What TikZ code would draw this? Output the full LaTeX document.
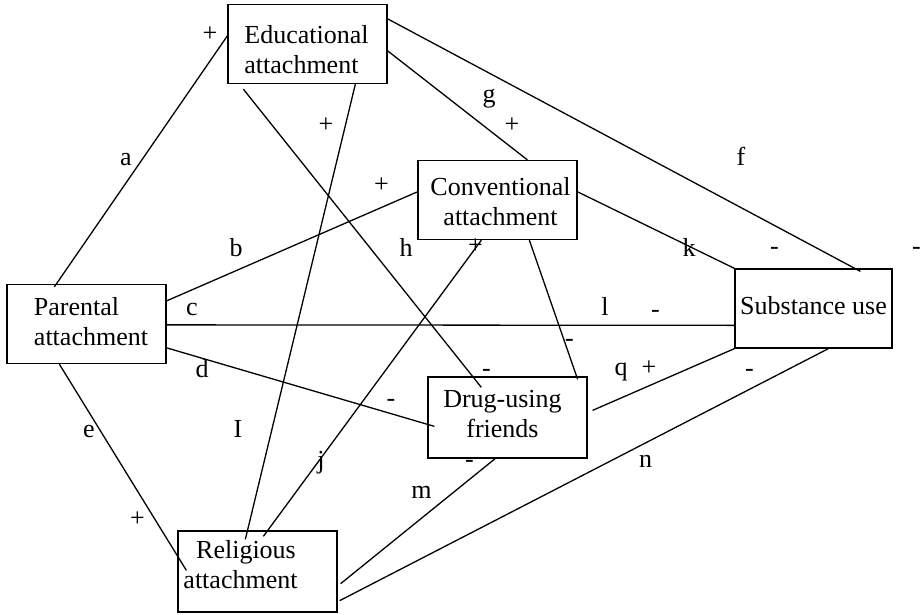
\documentclass[tikz,border=0pt]{standalone}
\usepackage{fontspec}
\setmainfont{Liberation Serif}
\usetikzlibrary{calc}
\newcommand\boxtxt[4]{\kern#1\raisebox{#2}[\height][\depth]{\begin{tabular}{@{}#3@{}}#4\end{tabular}}}
\begin{document}
\begin{tikzpicture}[x=1pt,y=-1pt,
  boxnode/.style={draw, line width=1.3pt, inner sep=0pt, minimum width=159pt, minimum height=79pt,
    font=\fontsize{26}{30}\selectfont},
  lbl/.style={inner sep=0pt, anchor=base, font=\fontsize{26}{30}\selectfont},
  conn/.style={line width=1.3pt}]
\useasboundingbox (0,0) rectangle (922,614);

% boxes
\node[boxnode] (edu)  at (307.5,44)    {\boxtxt{-2pt}{-8pt}{l}{Educational\\attachment}};
\node[boxnode] (conv) at (497.5,200)   {\boxtxt{6pt}{-4pt}{c}{Conventional\\attachment}};
\node[boxnode] (par)  at (86.5,324)    {\boxtxt{9pt}{0pt}{l}{Parental\\attachment}};
\node[boxnode, minimum height=81pt] (rel)  at (257.5,571.5) {\boxtxt{-34pt}{4pt}{c}{\kern11pt Religious\\attachment}};
\node[boxnode, minimum height=81pt] (drug) at (507.5,417.5) {\boxtxt{-10pt}{1pt}{c}{Drug-using\\friends}};
\node[boxnode, minimum width=157pt] (sub)  at (813.5,308.5) {\boxtxt{0pt}{0pt}{c}{Substance use}};

% connectors
\draw[conn] ($(par.north west)+(48,3)$) -- ($(edu.north west)+(0,32)$);   % a
\draw[conn] ($(edu.north east)+(0,15)$) -- ($(sub.north west)+(126,3)$);  % f
\draw[conn] ($(edu.north east)+(0,47)$) -- ($(conv.north west)+(110,0)$); % g
\draw[conn] ($(edu.south west)+(128,0)$) -- ($(rel.north west)+(68,9)$);  % I
\draw[conn] ($(edu.south west)+(16,5)$) -- ($(drug.north west)+(54,11)$); % h
\draw[conn] ($(par.north east)+(0,17)$) -- ($(conv.north west)+(0,32)$);  % b
\draw[conn] ($(par.north east)+(0,41)$) -- ($(sub.north west)+(0,57)$);   % c / l
\draw[conn] ($(par.north east)+(0,64)$) -- ($(drug.north west)+(7,50)$);  % d
\draw[conn] ($(par.south west)+(53,0)$) -- ($(rel.north west)+(9,40)$);   % e
\draw[conn] ($(rel.north west)+(86,6)$) -- ($(conv.south west)+(64,0)$);  % j
\draw[conn] ($(conv.north east)+(0,32)$) -- (sub.north west);             % k
\draw[conn] ($(conv.south west)+(112,0)$) -- ($(drug.north east)+(-10,3)$);
\draw[conn] ($(drug.north east)+(5,34)$) -- (sub.south west);             % q
\draw[conn] ($(drug.south west)+(69,-1)$) -- ($(rel.south east)+(3,-29)$); % m
\draw[conn] ($(sub.south west)+(94,0)$) -- ($(rel.south east)+(2,-12)$);   % n

% letter labels
\node[lbl] (la) at (126,165) {a};
\node[lbl] (lb) at (236,256) {b};
\node[lbl] (lc) at (192,315) {c};
\node[lbl] (ld) at (202,377) {d};
\node[lbl] (le) at (89,437) {e};
\node[lbl] (lf) at (741,165) {f};
\node[lbl] (lg) at (489,102) {g};
\node[lbl] (lh) at (406,256) {h};
\node[lbl] (lI) at (238,437) {I};
\node[lbl] (lj) at (321,468) {j};
\node[lbl] (lk) at (689,256) {k};
\node[lbl] (ll) at (605,315) {l};
\node[lbl] (lm) at (421.5,498) {m};
\node[lbl] (ln) at (645.5,467) {n};
\node[lbl] (lq) at (621,375) {q};

% sign labels
\node[lbl] (p1) at (210,41.6) {+};
\node[lbl] (p2) at (326,132.6) {+};
\node[lbl] (p3) at (381.5,192.6) {+};
\node[lbl] (p4) at (512,132.6) {+};
\node[lbl] (p5) at (475.5,253.6) {+};
\node[lbl] (p6) at (649,375.6) {+};
\node[lbl] (p7) at (137.5,526.6) {+};
\node[lbl] (m1) at (774.5,254) {-};
\node[lbl] (m2) at (916.5,254) {-};
\node[lbl] (m3) at (655.5,317) {-};
\node[lbl] (m4) at (391,406) {-};
\node[lbl] (m5) at (486.5,376.7) {-};
\node[lbl] (m6) at (569.5,346) {-};
\node[lbl] (m7) at (749.5,376) {-};
\node[lbl] (m8) at (469.5,467.7) {-};
\end{tikzpicture}
\end{document}
